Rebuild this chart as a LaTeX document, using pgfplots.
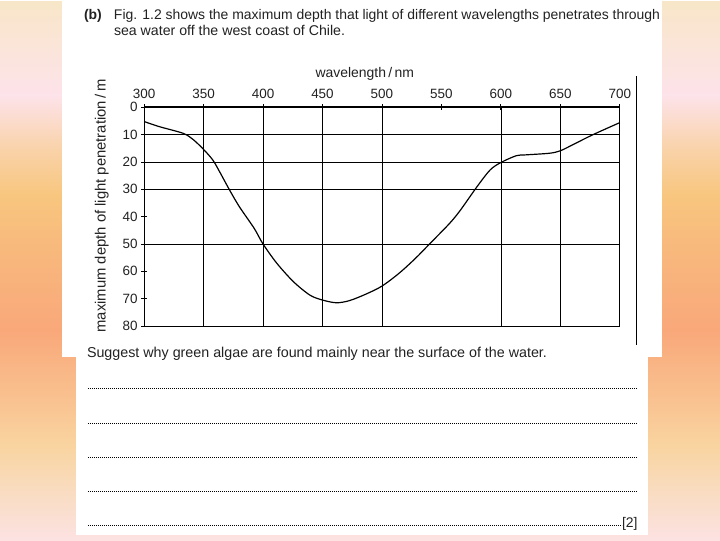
\documentclass[border=0pt]{standalone}
\usepackage{pgfplots}
\pgfplotsset{compat=1.18}
\usepackage{fontspec}
\setmainfont{Liberation Sans}
\definecolor{txt}{HTML}{222222}
\definecolor{g0}{HTML}{FCE2E2}
\definecolor{g1}{HTML}{F9DCC0}
\definecolor{g2}{HTML}{F9D4A0}
\definecolor{g3}{HTML}{F9C290}
\definecolor{g4}{HTML}{F9A87A}
\definecolor{g5}{HTML}{F8B67C}
\definecolor{g6}{HTML}{F8C67E}
\definecolor{g7}{HTML}{F9D2A8}
\definecolor{g8}{HTML}{FDE3EA}
\definecolor{g9}{HTML}{F8E6C8}
\pgfdeclareverticalshading{bg}{720bp}{color(0bp)=(g0); color(50bp)=(g1); color(95bp)=(g2); color(140bp)=(g3); color(210bp)=(g4); color(280bp)=(g5); color(345bp)=(g6); color(390bp)=(g7); color(445bp)=(g8); color(540bp)=(g9)}
\begin{document}
\begin{tikzpicture}
\node[inner sep=0pt, anchor=north west] at (0,0) {\pgfuseshading{bg}};
\begin{scope}[x=1bp,y=-1bp]
\fill[white] (62,0) rectangle (662,357);
\fill[white] (76,347) rectangle (648,535);
\draw[black, line width=0.9pt] (637,76) -- (637,345);
\begin{scope}[font=\fontsize{14}{16}\selectfont, text=txt]
\node[anchor=base west, inner sep=0pt] at (84,19) {\textbf{(b)}};
\node[anchor=base west, inner sep=0pt] at (114,19) {\resizebox{546bp}{!}{Fig. 1.2 shows the maximum depth that light of different wavelengths penetrates through}};
\node[anchor=base west, inner sep=0pt] at (114,35) {\resizebox{231bp}{!}{sea water off the west coast of Chile.}};
\node[anchor=center, inner sep=0pt] at (365,74) {wavelength\,/\,nm};
\node[anchor=center, inner sep=0pt, rotate=90] at (102,206) {\resizebox{253bp}{!}{maximum depth of light penetration\,/\,m}};
\node[anchor=base west, inner sep=0pt] at (87,357) {\resizebox{460bp}{!}{Suggest why green algae are found mainly near the surface of the water.}};
\node[anchor=base east, inner sep=0pt] at (638,527) {[2]};
\end{scope}
\foreach \yy in {388,423,457,491} {\draw[black, line width=0.7pt, dash pattern=on 0.7bp off 1.3bp] (88,\yy) -- (637,\yy);}
\draw[black, line width=0.7pt, dash pattern=on 0.7bp off 1.3bp] (88,525) -- (622,525);
\end{scope}
\begin{axis}[
  at={(144.3bp,-107.3bp)}, anchor=north west,
  scale only axis, width=475.7bp, height=218.7bp,
  xmin=300, xmax=700, ymin=0, ymax=80, y dir=reverse,
  xtick={300,350,...,700}, ytick={0,10,...,80},
  xtick pos=right, xticklabel pos=right,
  ytick pos=left, yticklabel pos=left,
  tick align=center, major tick length=6bp,
  tick style={black, line width=0.8pt},
  axis line style={black, line width=0.8pt},
  ticklabel style={font=\fontsize{13.5}{13.5}\selectfont, text=txt},
  xticklabel style={yshift=2.5bp},
  /pgf/number format/assume math mode=true,
  extra x ticks={350,400,450,500,600,650}, extra x tick labels={},
  extra x tick style={grid=major, major tick length=0pt},
  extra y ticks={10,20,30,50}, extra y tick labels={},
  extra y tick style={grid=major, major tick length=0pt},
  major grid style={black, line width=0.75pt},
  clip=false,
]
\draw[black, line width=1.8pt] (rel axis cs:0,1) -- (rel axis cs:1,1);
\addplot[black, line width=1.2pt, smooth, tension=0.5] coordinates {
(300,5.2) (313,7.1) (332.7,9.5) (341,11.7) (350,15.4) (357.8,19.3) (363.4,23.5) (371.8,30.2) (380,36.3) (392.6,44.3) (400,50) (411.7,57.1) (425.6,63.8) (439.4,68.7) (450,70.5) (461.7,71.5) (472.8,70.7) (486.7,68.3) (500,65.4) (514.4,60.7) (528.3,55.2) (540,50) (557,42.4) (566,37.6) (580,29) (591,22.9) (600,20.2) (613,17.7) (621,17.4) (641,16.8) (650,15.9) (660,13.8) (677,10.1) (700,5.6)
};
\end{axis}
\end{tikzpicture}
\end{document}
